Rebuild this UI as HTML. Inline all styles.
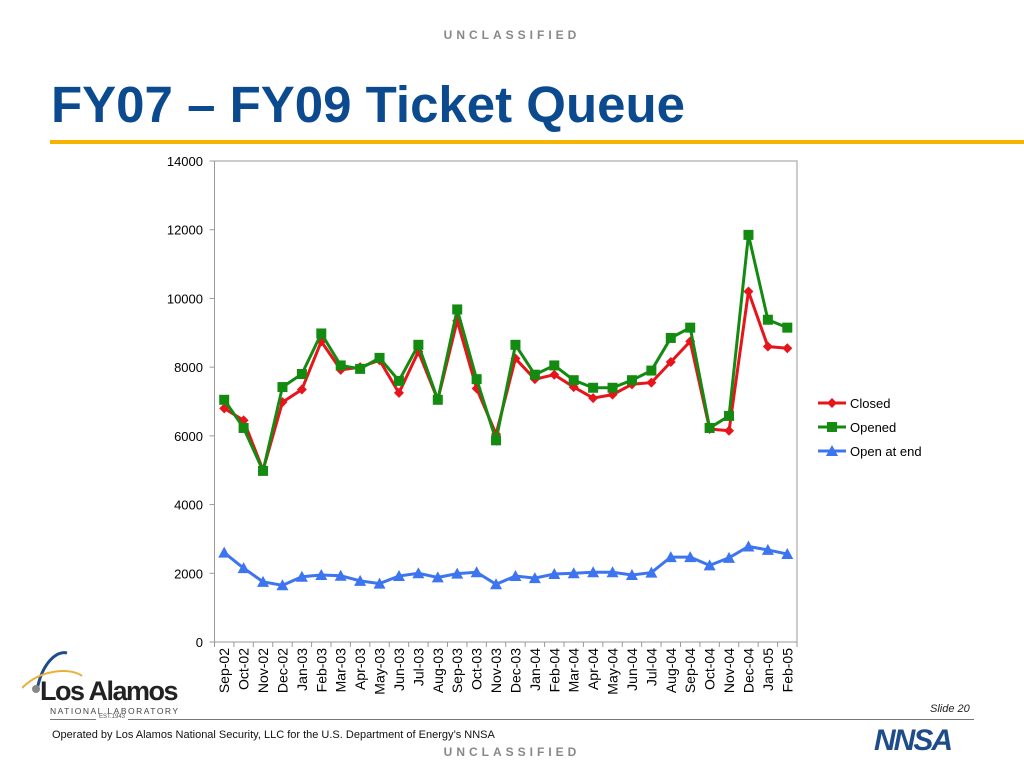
<!DOCTYPE html>
<html><head><meta charset="utf-8"><style>
body{margin:0;width:1024px;height:768px;background:#fff;position:relative;overflow:hidden;font-family:"Liberation Sans",sans-serif}
.abs{position:absolute}
</style></head><body>
<div class="abs" style="left:0;width:1024px;top:28px;text-align:center;font-size:12px;font-weight:bold;letter-spacing:4px;color:#888">UNCLASSIFIED</div>
<div class="abs" style="left:51px;top:75px;font-size:51px;font-weight:bold;color:#0b4a8f">FY07 – FY09 Ticket Queue</div>
<div class="abs" style="left:50px;top:140px;width:974px;height:4px;background:#f5b400"></div>
<svg class="abs" style="left:0;top:0" width="1024" height="768" id="chart"></svg>
<div class="abs" style="left:22px;top:648px;width:170px;height:80px">
<svg width="70" height="50" style="position:absolute;left:0;top:0"><path d="M15 42 C20 15,35 2,45 5" stroke="#1e4c8a" stroke-width="3" fill="none"/><path d="M0 40 C20 20,50 20,60 28" stroke="#e6b23a" stroke-width="2" fill="none"/><circle cx="14" cy="41" r="4" fill="#888"/></svg>
<div style="position:absolute;left:18px;top:28px;font-size:27px;font-weight:bold;color:#222;letter-spacing:-1.5px">Los Alamos</div>
<div style="position:absolute;left:28px;top:58px;font-size:8.5px;letter-spacing:1.5px;color:#444">NATIONAL LABORATORY</div>
</div>
<div class="abs" style="left:50px;top:719px;width:924px;height:1px;background:#777"></div>
<div class="abs" style="left:96px;top:714px;font-size:6px;color:#555;background:#fff;padding:0 3px">EST.1943</div>
<div class="abs" style="left:930px;top:703px;font-size:11px;font-style:italic;color:#222">Slide 20</div>
<div class="abs" style="left:52px;top:729px;font-size:11px;color:#111">Operated by Los Alamos National Security, LLC for the U.S. Department of Energy’s NNSA</div>
<div class="abs" style="left:0;width:1024px;top:745px;text-align:center;font-size:12px;font-weight:bold;letter-spacing:4px;color:#888">UNCLASSIFIED</div>
<div class="abs" style="left:874px;top:724px;font-size:30px;font-weight:bold;font-style:italic;color:#1e4c8a;letter-spacing:-2px">NNSA</div>
<script>
const categories=["Sep-02","Oct-02","Nov-02","Dec-02","Jan-03","Feb-03","Mar-03","Apr-03","May-03","Jun-03","Jul-03","Aug-03","Sep-03","Oct-03","Nov-03","Dec-03","Jan-04","Feb-04","Mar-04","Apr-04","May-04","Jun-04","Jul-04","Aug-04","Sep-04","Oct-04","Nov-04","Dec-04","Jan-05","Feb-05"];
const closed=[6800,6450,5000,6980,7350,8750,7920,8000,8200,7250,8450,7050,9350,7380,6050,8250,7650,7780,7420,7100,7200,7500,7550,8150,8750,6200,6150,10200,8600,8550];
const opened=[7050,6230,4980,7420,7800,8980,8050,7950,8270,7600,8650,7050,9680,7650,5870,8650,7780,8050,7620,7400,7400,7620,7900,8850,9150,6230,6580,11850,9380,9150];
const openAtEnd=[2600,2150,1750,1650,1900,1950,1930,1780,1700,1920,2000,1880,1990,2030,1680,1920,1860,1980,2000,2030,2030,1950,2020,2470,2470,2230,2450,2780,2680,2560];
const yTicks=[0,2000,4000,6000,8000,10000,12000,14000];
const L=214.5,R=797,T=161,B=642,YMAX=14000;
const svg=document.getElementById('chart');const NS='http://www.w3.org/2000/svg';
const bw=(R-L)/categories.length;
const x=i=>L+bw*(i+0.5);
const y=v=>B-(v/YMAX)*(B-T);
function mk(t,a,p){const e=document.createElementNS(NS,t);for(const k in a)e.setAttribute(k,a[k]);(p||svg).appendChild(e);return e;}
mk('rect',{x:L,y:T,width:R-L,height:B-T,fill:'none',stroke:'#999','stroke-width':1});
yTicks.forEach(v=>{const t=mk('text',{x:203,y:y(v)+5,'text-anchor':'end','font-size':13,fill:'#000','font-family':'Liberation Sans'});t.textContent=v;


mk('line',{x1:L-5,x2:L,y1:y(v),y2:y(v),stroke:'#999'});});
categories.forEach((c,i)=>{mk('line',{x1:L+bw*i,x2:L+bw*i,y1:B,y2:B+5,stroke:'#999'});
const t=mk('text',{x:0,y:0,transform:`translate(${x(i)+5},${B+6}) rotate(-90)`,'text-anchor':'end','font-size':14,fill:'#000','font-family':'Liberation Sans'});t.textContent=c;

});
mk('line',{x1:R,x2:R,y1:B,y2:B+5,stroke:'#999'});
function marker(type,cx,cy,col,name){let e;
if(type==='d')e=mk('polygon',{points:`${cx},${cy-5} ${cx+5},${cy} ${cx},${cy+5} ${cx-5},${cy}`,fill:col});
else if(type==='s')e=mk('rect',{x:cx-5,y:cy-5,width:10,height:10,fill:col});
else e=mk('polygon',{points:`${cx},${cy-6} ${cx+6},${cy+5} ${cx-6},${cy+5}`,fill:col});

}
const series=[[closed,'#e8141b','d','closed'],[opened,'#138a10','s','opened'],[openAtEnd,'#3d74f0','t','open-at-end']];
series.forEach(([d,col,m,n])=>{const p=mk('polyline',{points:d.map((v,i)=>x(i)+','+y(v)).join(' '),fill:'none',stroke:col,'stroke-width':3});


d.forEach((v,i)=>marker(m,x(i),y(v),col,n+'-point'));});
const names=['Closed','Opened','Open at end'];
series.forEach(([d,col,m,n],k)=>{const ly=403+k*24;const g=mk('line',{x1:818,x2:846,y1:ly,y2:ly,stroke:col,'stroke-width':3});


marker(m,832,ly,col,'legend-marker');
const t=mk('text',{x:850,y:ly+5,'font-size':13,fill:'#000','font-family':'Liberation Sans'});t.textContent=names[k];

});
</script>
</body></html>
